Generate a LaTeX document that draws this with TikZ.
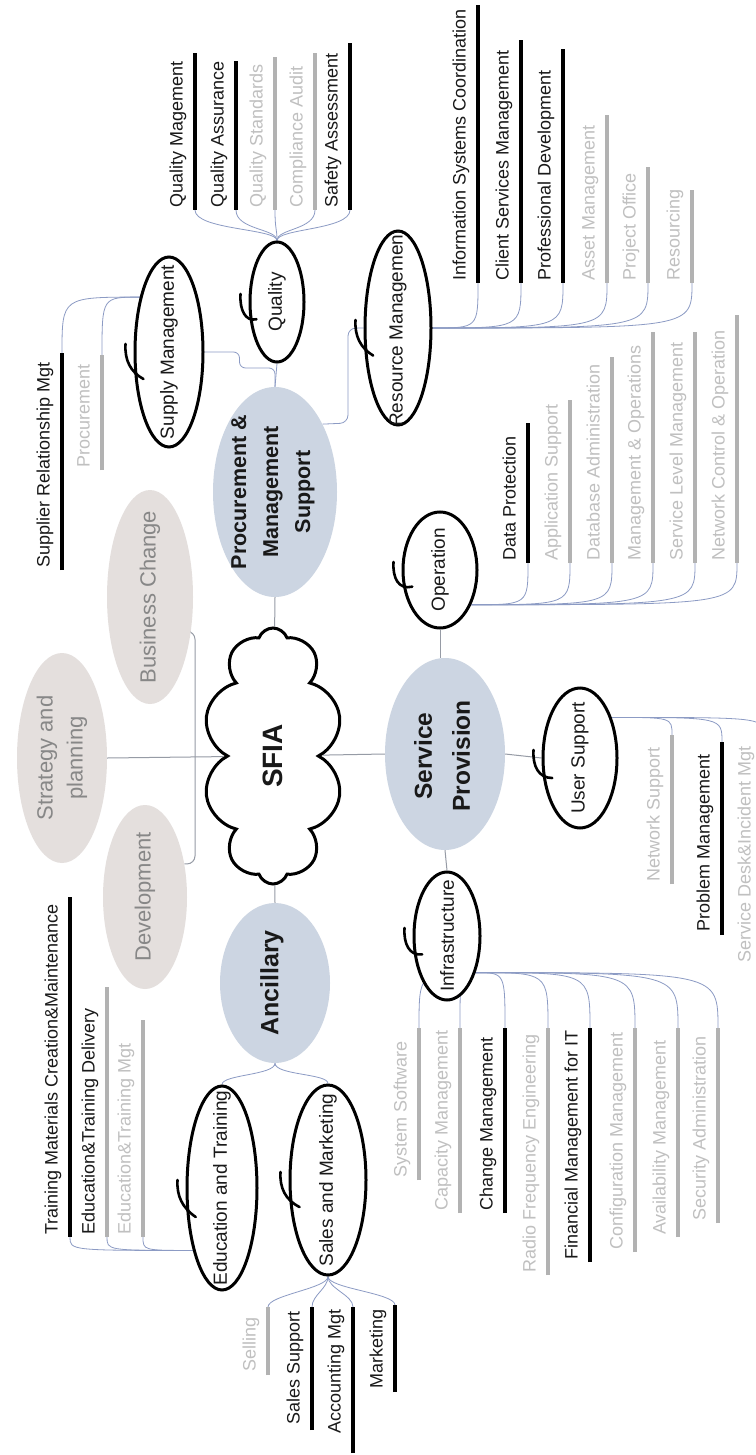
\documentclass[tikz,border=0pt]{standalone}
\usepackage{fontspec}
\setmainfont{Liberation Sans}
\usetikzlibrary{shapes.geometric,shapes.symbols,calc}

\definecolor{mainfill}{RGB}{204,213,226}
\definecolor{greyfill}{RGB}{228,223,221}
\definecolor{greytext}{RGB}{135,135,135}
\definecolor{leafgrey}{RGB}{192,192,192}
\definecolor{bargrey}{RGB}{178,178,178}
\definecolor{linkblue}{RGB}{140,155,196}
\definecolor{trunk}{RGB}{150,155,165}
\definecolor{ink}{RGB}{25,25,25}

\pgfdeclarelayer{bg}
\pgfsetlayers{bg,main}

\tikzset{
  mainell/.style={ellipse, fill=mainfill, inner sep=0pt},
  mainlbl/.style={rotate=90, align=center, text=ink},
  greyell/.style={ellipse, fill=greyfill, inner sep=0pt},
  greylbl/.style={rotate=90, align=center, font=\fontsize{22}{30}\selectfont, text=greytext},
  subell/.style={ellipse, draw=black, line width=3pt, fill=white, inner sep=0pt},
  sublbl/.style={rotate=90, inner sep=0pt, font=\fontsize{19}{20}\selectfont, text=ink},
  leaflbl/.style={rotate=90, inner sep=0pt, anchor=base west, font=\fontsize{18}{20}\selectfont},
  bar/.style={line width=4.5pt},
  link/.style={draw=linkblue, line width=0.8pt},
  trunkline/.style={draw=trunk, line width=1pt},
  swoosh/.style={line width=2.6pt, line cap=round},
}

% sub-topic: name, x, y, x radius, y radius, label
\newcommand\subtopic[6]{%
  \node[subell, minimum width=2*#4pt, minimum height=2*#5pt] (#1) at (#2,#3) {};
  \begin{scope}
    \clip (#2,#3) ellipse [x radius=#4, y radius=#5];
    \node[sublbl] (#1-lbl) at (#1) {#6};
  \end{scope}
  \draw[swoosh] ($(#1.west)+(-8,-8)$) .. controls ($(#1.west)+(-9,8)$) and ($(#1.west)+(-3,20)$) .. ($(#1.west)!0.28!(#1.south)$);
}

% skill: name, bar x, text start y, bar bottom y, bar top y, text colour, bar colour, label
\newcommand\skill[8]{%
  \coordinate (#1-b) at (#2,#4);
  \coordinate (#1-t) at (#2,#5);
  \draw[bar, #7] (#1-b) -- (#1-t);
  \node[leaflbl, text=#6] (#1) at (#2-12.5,#3) {#8};
}

\begin{document}
\begin{tikzpicture}[x=1pt, y=-1pt]
\useasboundingbox (0,0) rectangle (755,1455);

% ---- centre and categories ----
\node[cloud, draw=black, line width=3pt, fill=white, cloud puffs=10, cloud puff arc=140,
      cloud ignores aspect, minimum width=140pt, minimum height=256pt, inner sep=0pt] (sfia) at (273,756) {};
\node[rotate=90, font=\bfseries\fontsize{28}{30}\selectfont, text=ink] (sfia-lbl) at (sfia) {SFIA};

\node[mainell, minimum width=124pt, minimum height=210pt] (proc) at (275,492) {};
\node[mainlbl, font=\bfseries\fontsize{21.5}{32}\selectfont] (proc-lbl) at (273,492) {Procurement \&\\Management\\Support};

\node[mainell, minimum width=120pt, minimum height=192pt] (svc) at (445,754) {};
\node[mainlbl, font=\bfseries\fontsize{24.5}{38}\selectfont] (svc-lbl) at (442,756) {Service\\Provision};

\node[mainell, minimum width=110pt, minimum height=160pt] (anc) at (275,983) {};
\node[mainlbl, font=\bfseries\fontsize{25}{30}\selectfont] (anc-lbl) at (272,983) {Ancillary};

\node[greyell, minimum width=90pt, minimum height=210pt] (strat) at (62,758) {};
\node[greylbl] (strat-lbl) at (strat) {Strategy and\\planning};

\node[greyell, minimum width=86pt, minimum height=214pt] (bchg) at (150,597) {};
\node[greylbl] (bchg-lbl) at (bchg) {Business Change};

\node[greyell, minimum width=84pt, minimum height=184pt] (dev) at (145,897) {};
\node[greylbl] (dev-lbl) at (dev) {Development};

% ---- sub-topics ----
\subtopic{sup}{169}{352}{34}{95}{Supply Management}
\subtopic{qual}{277}{302}{27}{60}{Quality}
\subtopic{res}{398}{328}{33}{97}{Resource Management}
\subtopic{op}{440}{570}{37}{58}{Operation}
\subtopic{us}{580}{758}{37}{70}{User Support}
\subtopic{inf}{447}{936}{33}{64}{Infrastructure}
\subtopic{edu}{222}{1188}{35}{102}{Education and Training}
\subtopic{sal}{328}{1180}{38}{95}{Sales and Marketing}

% ---- skills ----
% Quality
\skill{q1}{195}{208}{210}{53}{ink}{black}{Quality Magement}
\skill{q2}{236}{208}{210}{61}{ink}{black}{Quality Assurance}
\skill{q3}{275}{208}{210}{57}{leafgrey}{bargrey}{Quality Standards}
\skill{q4}{315}{208}{210}{53}{leafgrey}{bargrey}{Compliance Audit}
\skill{q5}{350}{208}{210}{43}{ink}{black}{Safety Assessment}
% Resource Management
\skill{r1}{478}{281}{283}{5}{ink}{black}{Information Systems Coordination}
\skill{r2}{521}{281}{283}{40}{ink}{black}{Client Services Management}
\skill{r3}{563}{281}{283}{49}{ink}{black}{Professional Development}
\skill{r4}{607}{281}{283}{115}{leafgrey}{bargrey}{Asset Management}
\skill{r5}{648}{281}{283}{167}{leafgrey}{bargrey}{Project Office}
\skill{r6}{692}{281}{283}{190}{leafgrey}{bargrey}{Resourcing}
% Operation
\skill{o1}{528}{561}{563}{423}{ink}{black}{Data Protection}
\skill{o2}{570}{561}{563}{400}{leafgrey}{bargrey}{Application Support}
\skill{o3}{612}{561}{563}{357}{leafgrey}{bargrey}{Database Administration}
\skill{o4}{653}{561}{563}{332}{leafgrey}{bargrey}{Management \& Operations}
\skill{o5}{695}{561}{563}{332}{leafgrey}{bargrey}{Service Level Management}
\skill{o6}{737}{561}{563}{315}{leafgrey}{bargrey}{Network Control \& Operation}
% User Support
\skill{u1}{672}{882}{884}{735}{leafgrey}{bargrey}{Network Support}
\skill{u2}{722}{932}{935}{742}{ink}{black}{Problem Management}
\skill{u3}{763}{963}{965}{735}{leafgrey}{bargrey}{Service Desk\&Incident Mgt}
% Infrastructure
\skill{i1}{419}{1178}{1180}{1028}{leafgrey}{bargrey}{System Software}
\skill{i2}{460}{1211}{1213}{1028}{leafgrey}{bargrey}{Capacity Management}
\skill{i3}{505}{1211}{1213}{1028}{ink}{black}{Change Management}
\skill{i4}{548}{1273}{1275}{1028}{leafgrey}{bargrey}{Radio Frequency Engineering}
\skill{i5}{590}{1260}{1262}{1028}{ink}{black}{Financial Management for IT}
\skill{i6}{635}{1250}{1252}{1028}{leafgrey}{bargrey}{Configuration Management}
\skill{i7}{678}{1235}{1237}{1028}{leafgrey}{bargrey}{Availability Management}
\skill{i8}{718}{1221}{1223}{1028}{leafgrey}{bargrey}{Security Administration}
% Supply Management
\skill{s1}{62}{568}{570}{353}{ink}{black}{Supplier Relationship Mgt}
\skill{s2}{102}{468}{470}{355}{leafgrey}{bargrey}{Procurement}
% Education and Training
\skill{e1}{70}{1235}{1237}{897}{ink}{black}{Training Materials Creation\&Maintenance}
\skill{e2}{107}{1235}{1237}{987}{ink}{bargrey}{Education\&Training Delivery}
\skill{e3}{143}{1235}{1237}{1020}{leafgrey}{bargrey}{Education\&Training Mgt}
% Sales and Marketing
\skill{m1}{268}{1372}{1375}{1307}{leafgrey}{bargrey}{Selling}
\skill{m2}{312}{1425}{1430}{1307}{ink}{black}{Sales Support}
\skill{m3}{353}{1434}{1453}{1307}{ink}{black}{Accounting Mgt}
\skill{m4}{395}{1389}{1392}{1305}{ink}{black}{Marketing}

% ---- connectors ----
\begin{pgfonlayer}{bg}
  \fill[white] (0,0) rectangle (755,1455);

  % centre to categories
  \draw[trunkline] (proc.south) -- (sfia);
  \draw[trunkline] (sfia) -- (anc.north);
  \draw[trunkline] (sfia) -- (svc.west);
  \draw[trunkline] (strat.east) -- (sfia);
  \coordinate (jn) at (195,757);
  \draw[trunkline, rounded corners=8] (bchg.-40) -| (jn);
  \draw[trunkline, rounded corners=8] (dev.40) -| (jn);

  % categories to sub-topics
  \draw[link] (qual.south) -- (proc.north);
  \draw[link, rounded corners=6] (sup.east) -- ++(35,0) -- ++(0,16) -| (proc.north);
  \draw[link, rounded corners=8] (proc.55) -- (348,423) -- (348,328) -- (res.west);
  \draw[trunkline] (op.south) -- (op.south |- svc.north);
  \draw[trunkline] (svc.south) -- (inf.north);
  \draw[trunkline] (svc.east) -- (us.west);
  \draw[link] (anc.south) .. controls +(0,12) and +(0,-10) .. (edu.north);
  \draw[link] (anc.south) .. controls +(0,12) and +(0,-10) .. (sal.north);

  % sub-topics to skills
  \foreach \n in {q1,q2,q3,q4,q5}
    \draw[link] (qual.north) .. controls +(0,-12) and +(0,20) .. (\n-b);
  \foreach \n in {r1,r2,r3,r4,r5,r6}
    \draw[link] (res.east) .. controls (\n-b |- res.east) .. (\n-b);
  \foreach \n in {o1,o2,o3,o4,o5,o6}
    \draw[link] (op.-48) .. controls (\n-b |- op.-48) .. (\n-b);
  \foreach \n in {u1,u2,u3}
    \draw[link] (us.52) .. controls (\n-t |- us.52) .. (\n-t);
  \foreach \n in {i1,i2,i3,i4,i5,i6,i7,i8}
    \draw[link] (inf.-52) .. controls (\n-t |- inf.-52) .. (\n-t);
  \foreach \n in {s1,s2}
    \draw[link] (sup.118) .. controls (\n-t |- sup.118) .. (\n-t);
  \foreach \n in {e1,e2,e3}
    \draw[link] (edu.245) .. controls (\n-b |- edu.245) .. (\n-b);
  \foreach \n in {m1,m2,m3,m4}
    \draw[link] (sal.south) .. controls +(0,12) and +(0,-12) .. (\n-t);
\end{pgfonlayer}
\end{tikzpicture}
\end{document}
